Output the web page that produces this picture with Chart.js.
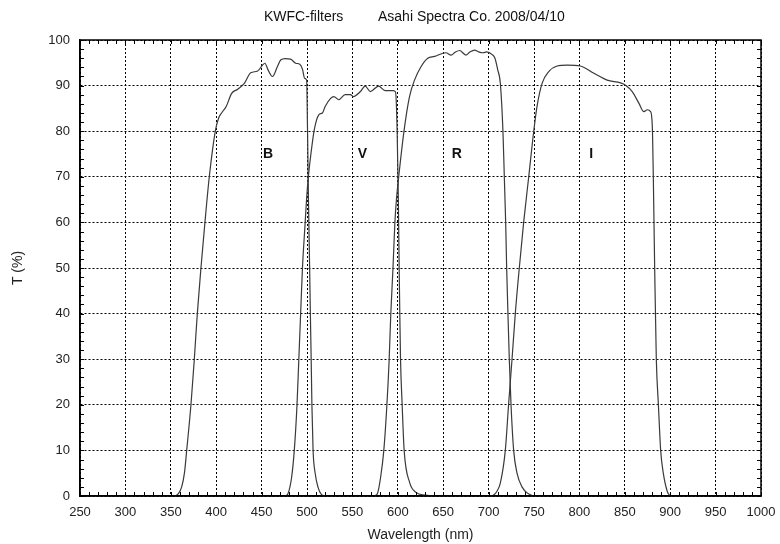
<!DOCTYPE html>
<html>
<head>
<meta charset="utf-8">
<title>KWFC-filters</title>
<script src="https://cdn.jsdelivr.net/npm/chart.js@4/dist/chart.umd.min.js"></script>
<style>
  html, body { margin: 0; padding: 0; background: #fff; }
  #wrap { width: 780px; height: 544px; }
</style>
</head>
<body>
<div id="wrap"><canvas id="filter-chart" width="780" height="544"></canvas></div>
<script>
/* KWFC filter transmission curves (Asahi Spectra, 2008/04/10)
 * four filters B, V, R, I
 */

var TITLE_LEFT = 'KWFC-filters';
var TITLE_RIGHT = 'Asahi Spectra Co. 2008/04/10';

var bWave = [352, 355.5, 358.3, 362, 365, 367.5, 372.2, 375.9, 379.2, 383.2, 387.6, 392.4, 399, 402.5, 406, 411, 417, 423.7, 431, 438, 445.6, 451, 453.6, 457, 462, 467.5, 471, 476, 482, 487.6, 492, 495, 497.4, 499.6, 500.6, 501.6, 502.9, 503.7, 504.6, 505.4, 506.7, 509, 512, 516, 520];
var bTrans = [0, 0.1, 0.5, 2, 5, 10, 20, 30, 40, 50, 60, 70, 80, 82.8, 84, 85.4, 88.3, 89.2, 90.5, 92.8, 93.2, 94.5, 94.9, 93.5, 92, 94.2, 95.6, 95.9, 95.8, 94.9, 94.7, 93.6, 91.6, 91.2, 80, 65, 50, 40, 30, 20, 10, 5, 2, 0.3, 0];

var vWave = [476, 479, 483, 486, 489, 491, 493, 495, 498, 499.5, 501.5, 504, 508, 513, 517, 520, 526, 529.6, 535, 542, 548, 551, 558.8, 564, 569.7, 578.8, 586, 595, 597.5, 599.3, 600.6, 601.5, 602.2, 603, 604.8, 607, 613, 620, 630, 640];
var vTrans = [0, 0.5, 4, 10, 20, 30, 40, 50, 60, 65, 70, 74.5, 80.3, 83.6, 84, 85.4, 87.2, 87.6, 86.9, 88, 88, 87.6, 88.7, 89.9, 88.7, 89.9, 88.9, 88.9, 88.6, 80, 65, 50, 40, 30, 20, 10, 3, 0.8, 0.2, 0];

var rWave = [574, 577.5, 581, 584.6, 588, 590.5, 592.3, 594.7, 596.8, 598.5, 601, 607, 612.9, 618.4, 625.7, 633, 640.4, 649.6, 653, 658.8, 663, 668, 675, 679, 684.6, 689, 693.8, 698, 704, 707, 710, 712.9, 715.8, 717.3, 718.8, 719.9, 721.3, 722.8, 724.7, 727.6, 731.3, 736.8, 743, 749.7];
var rTrans = [0, 0.5, 4, 10, 20, 30, 40, 50, 60, 65, 70, 80.3, 87.6, 91.2, 94.2, 96, 96.4, 97.1, 97.2, 96.7, 97.3, 97.7, 96.7, 97.3, 97.8, 97.4, 97.2, 97.4, 96.8, 96, 93.5, 90.5, 80, 70, 60, 50, 40, 30, 20, 10, 5, 2, 0.6, 0];

var iWave = [701, 705.5, 709, 712.9, 718.4, 722, 725.8, 729.4, 733.8, 738.6, 744.2, 749.7, 753.3, 758.9, 766, 775.4, 786.5, 801, 816, 830.6, 845.3, 850.8, 858.2, 865.6, 871, 874.8, 878.4, 880.3, 881.4, 882.9, 884.7, 887, 889.5, 892.4, 896.8, 900];
var iTrans = [0, 0.2, 1, 2.8, 10, 20, 30, 40, 50, 60, 70, 80, 85.4, 90.5, 93, 94.3, 94.5, 94.3, 92.7, 91.2, 90.6, 90.1, 88.7, 86.1, 84.3, 84.7, 84.3, 81, 70, 50, 30, 20, 10, 5, 1, 0];

var filterNames = ['B', 'V', 'R', 'I'];
var labelWave = [457, 561, 665, 813];
var labelTrans = [75, 75, 75, 75];

var xTicks = [250, 300, 350, 400, 450, 500, 550, 600, 650, 700, 750, 800, 850, 900, 950, 1000];
var yTicks = [0, 10, 20, 30, 40, 50, 60, 70, 80, 90, 100];

var FONT = 'Arial, "Liberation Sans", Helvetica, sans-serif';
var CURVE_COLOR = '#3a3a3a';

function toPoints(xs, ys) {
  return xs.map(function (x, i) { return { x: x, y: ys[i] }; });
}

function curve(xs, ys) {
  return {
    data: toPoints(xs, ys),
    borderColor: CURVE_COLOR,
    borderWidth: 1.2,
    pointRadius: 0,
    fill: false,
    cubicInterpolationMode: 'monotone'
  };
}

// title, filter letters, frame and small inward ticks
var decorPlugin = {
  id: 'decor',
  afterDraw: function (chart) {
    var ctx = chart.ctx;
    var area = chart.chartArea;
    var xs = chart.scales.x;
    var ys = chart.scales.y;
    var v, p;

    ctx.save();
    ctx.fillStyle = '#111';
    ctx.font = '14px ' + FONT;
    ctx.textAlign = 'left';
    ctx.textBaseline = 'middle';
    ctx.fillText(TITLE_LEFT, 264, 17);
    ctx.fillText(TITLE_RIGHT, 378, 17);

    ctx.textAlign = 'center';
    ctx.font = 'bold 14px ' + FONT;
    filterNames.forEach(function (n, i) {
      ctx.fillText(n, xs.getPixelForValue(labelWave[i]), ys.getPixelForValue(labelTrans[i]));
    });

    ctx.strokeStyle = '#000';
    ctx.lineWidth = 1;
    ctx.beginPath();
    for (v = 250; v <= 1000; v += 10) {
      p = Math.round(xs.getPixelForValue(v)) + 0.5;
      ctx.moveTo(p, area.bottom); ctx.lineTo(p, area.bottom - 4);
      ctx.moveTo(p, area.top); ctx.lineTo(p, area.top + 4);
    }
    for (v = 0; v <= 100; v += 2) {
      p = Math.round(ys.getPixelForValue(v)) + 0.5;
      ctx.moveTo(area.left, p); ctx.lineTo(area.left + 4, p);
      ctx.moveTo(area.right, p); ctx.lineTo(area.right - 4, p);
    }
    ctx.stroke();

    ctx.lineWidth = 1.5;
    ctx.strokeRect(area.left, area.top, area.right - area.left, area.bottom - area.top);
    ctx.restore();
  }
};

function plainLabel(v) { return String(v); }

var chart = new Chart(document.getElementById('filter-chart').getContext('2d'), {
  type: 'line',
  data: {
    datasets: [curve(bWave, bTrans), curve(vWave, vTrans), curve(rWave, rTrans), curve(iWave, iTrans)]
  },
  options: {
    responsive: false,
    animation: false,
    devicePixelRatio: 1,
    layout: { padding: { top: 40, right: 19, left: 0, bottom: 0 } },
    plugins: {
      legend: { display: false },
      tooltip: { enabled: false },
      title: { display: false }
    },
    scales: {
      x: {
        type: 'linear',
        min: 250, max: 1000,
        afterBuildTicks: function (s) { s.ticks = xTicks.map(function (v) { return { value: v }; }); },
        afterFit: function (s) { s.height = 48; s.paddingLeft = 0; s.paddingRight = 0; },
        ticks: { color: '#222', font: { family: FONT, size: 13 }, padding: 9, maxRotation: 0, autoSkip: false, callback: plainLabel },
        grid: { color: '#000', lineWidth: 1, drawTicks: false },
        border: { display: true, color: '#000', width: 1.5, dash: [2, 2] },
        title: { display: true, text: 'Wavelength (nm)', color: '#222', font: { family: FONT, size: 14 }, padding: { top: 2, bottom: 0 } }
      },
      y: {
        type: 'linear',
        min: 0, max: 100,
        afterBuildTicks: function (s) { s.ticks = yTicks.map(function (v) { return { value: v }; }); },
        afterFit: function (s) { s.width = 80; s.paddingTop = 0; s.paddingBottom = 0; },
        ticks: { color: '#222', font: { family: FONT, size: 13 }, padding: 10, callback: plainLabel },
        grid: { color: '#000', lineWidth: 1, drawTicks: false },
        border: { display: true, color: '#000', width: 1.5, dash: [2, 2] },
        title: { display: true, text: 'T (%)', color: '#222', font: { family: FONT, size: 14 }, padding: { top: 10, bottom: 0 } }
      }
    }
  },
  plugins: [decorPlugin]
});
</script>
</body>
</html>
